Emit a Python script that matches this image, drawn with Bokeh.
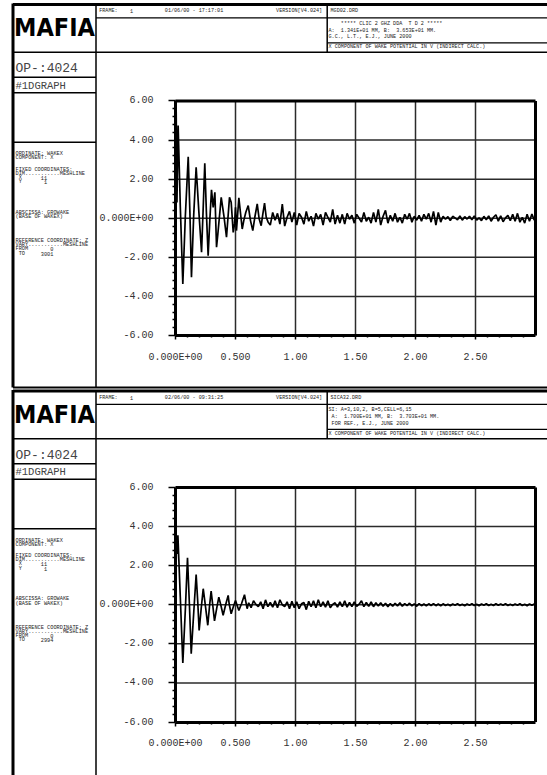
import re
from bokeh.plotting import figure
from bokeh.models import Range1d, LinearAxis, FixedTicker
from bokeh.core.properties import value
from bokeh.embed import file_html
from bokeh.resources import INLINE

# ---------------- data ----------------
x_tick_values = [0.0, 0.5, 1.0, 1.5, 2.0, 2.5]
x_tick_labels = ["0.000E+00", "0.500", "1.00", "1.50", "2.00", "2.50"]
x_end = 3.0
y_tick_values = [-6.0, -4.0, -2.0, 0.0, 2.0, 4.0, 6.0]
y_tick_labels = ["-6.00", "-4.00", "-2.00", "0.000E+00", "2.00", "4.00", "6.00"]

# upper plot: MGD02.DRD
ring1_x = [0.000, 0.005, 0.012, 0.022, 0.040, 0.061, 0.082, 0.106, 0.120, 0.133,
           0.152, 0.172, 0.195, 0.217, 0.230, 0.244, 0.258, 0.272, 0.286, 0.300,
           0.314, 0.328, 0.342, 0.353, 0.381, 0.403, 0.425, 0.450, 0.464, 0.481,
           0.492, 0.500, 0.508, 0.528, 0.556, 0.569, 0.586, 0.606, 0.625, 0.644,
           0.661, 0.681, 0.697, 0.714, 0.728, 0.742, 0.756, 0.772]
ring1_y = [0.00, 6.00, 0.80, 4.74, 0.60, -3.36, 0.10, 3.15, 0.30, -3.02,
           0.20, 2.61, 0.30, -1.74, 0.40, 2.81, 0.20, -1.91, -0.10, 1.45,
           0.56, 1.33, -1.48, -0.80, 1.07, 0.14, -0.97, 1.07, 0.82, -0.72,
           -0.29, 0.56, -0.63, 1.04, -0.55, -0.12, 0.31, 0.65, -0.12, -0.63,
           0.05, 0.73, -0.03, -0.38, 0.22, 0.77, 0.05, -0.20]
tail1_x = [0.79, 0.81, 0.83, 0.85, 0.87, 0.89, 0.91, 0.93, 0.95, 0.97, 0.99,
           1.01, 1.03, 1.05, 1.07, 1.09, 1.11, 1.13, 1.15, 1.17, 1.19,
           1.21, 1.23, 1.25, 1.27, 1.29, 1.31, 1.33, 1.35, 1.37, 1.39,
           1.41, 1.43, 1.45, 1.47, 1.49, 1.51, 1.53, 1.55, 1.57, 1.59,
           1.61, 1.63, 1.65, 1.67, 1.69, 1.71, 1.73, 1.75, 1.77, 1.79,
           1.81, 1.83, 1.85, 1.87, 1.89, 1.91, 1.93, 1.95, 1.97, 1.99,
           2.01, 2.03, 2.05, 2.07, 2.09, 2.11, 2.13, 2.15, 2.17, 2.19,
           2.21, 2.23, 2.25, 2.27, 2.29, 2.31, 2.33, 2.35, 2.37, 2.39,
           2.41, 2.43, 2.45, 2.47, 2.49, 2.51, 2.53, 2.55, 2.57, 2.59,
           2.61, 2.63, 2.65, 2.67, 2.69, 2.71, 2.73, 2.75, 2.77, 2.79,
           2.81, 2.83, 2.85, 2.87, 2.89, 2.91, 2.93, 2.95, 2.97, 2.99]
tail1_y = [-0.35, 0.30, -0.10, 0.25, -0.30, 0.72, -0.40, 0.05, 0.35, -0.20, 0.30,
           -0.35, 0.25, 0.05, -0.30, 0.35, -0.15, 0.10, -0.40, 0.25, -0.05,
           0.20, -0.35, 0.30, 0.05, -0.20, 0.45, -0.30, 0.15, -0.25, 0.20,
           -0.30, 0.25, -0.05, 0.15, -0.25, 0.20, 0.00, -0.20, 0.30, -0.15,
           0.05, -0.25, 0.30, -0.20, 0.45, -0.35, 0.10, 0.40, -0.25, 0.15,
           -0.15, 0.25, -0.20, 0.05, -0.25, 0.20, -0.05, 0.25, -0.20, 0.10,
           -0.10, 0.15, -0.15, 0.20, -0.05, 0.25, -0.20, 0.35, -0.35, 0.30,
           -0.20, 0.10, -0.05, 0.08, -0.12, 0.10, 0.02, -0.08, 0.12, -0.10,
           0.08, -0.04, 0.10, -0.08, 0.12, -0.10, 0.02, -0.12, 0.10, -0.08,
           0.12, -0.15, 0.05, 0.18, -0.15, 0.12, -0.18, 0.02, 0.15, -0.12,
           0.20, -0.15, 0.25, -0.20, 0.05, -0.25, 0.20, -0.15, 0.22, -0.10]

# lower plot: SICA32.DRD
ring2_x = [0.000, 0.008, 0.013, 0.020, 0.040, 0.061, 0.083, 0.100, 0.116, 0.131,
           0.152, 0.172, 0.185, 0.197, 0.214, 0.231, 0.250, 0.269, 0.283, 0.297,
           0.311, 0.325, 0.343, 0.361, 0.379, 0.397, 0.418, 0.439, 0.447, 0.464,
           0.482, 0.500, 0.528, 0.550, 0.575, 0.597]
ring2_y = [0.00, 3.20, 2.60, 3.55, 0.40, -2.98, -0.12, 2.40, 0.00, -2.50,
           -0.40, 1.55, 0.20, -1.31, -0.20, 0.82, -0.10, -1.05, -0.10, 0.70,
           -0.05, -0.83, -0.20, 0.39, -0.05, -0.54, 0.00, 0.48, 0.05, -0.46,
           -0.10, 0.22, -0.29, 0.05, 0.51, -0.20]
tail2_x = [0.61, 0.63, 0.65, 0.67, 0.69, 0.71, 0.73, 0.75, 0.77, 0.79,
           0.81, 0.83, 0.85, 0.87, 0.89, 0.91, 0.93, 0.95, 0.97, 0.99,
           1.01, 1.03, 1.05, 1.07, 1.09, 1.11, 1.13, 1.15, 1.17, 1.19,
           1.21, 1.23, 1.25, 1.27, 1.29, 1.31, 1.33, 1.35, 1.37, 1.39,
           1.41, 1.43, 1.45, 1.47, 1.49, 1.51, 1.53, 1.55, 1.57, 1.59,
           1.61, 1.63, 1.65, 1.67, 1.69, 1.71, 1.73, 1.75, 1.77, 1.79,
           1.81, 1.83, 1.85, 1.87, 1.89, 1.91, 1.93, 1.95, 1.97, 1.99,
           2.01, 2.03, 2.05, 2.07, 2.09, 2.11, 2.13, 2.15, 2.17, 2.19,
           2.21, 2.23, 2.25, 2.27, 2.29, 2.31, 2.33, 2.35, 2.37, 2.39,
           2.41, 2.43, 2.45, 2.47, 2.49, 2.51, 2.53, 2.55, 2.57, 2.59,
           2.61, 2.63, 2.65, 2.67, 2.69, 2.71, 2.73, 2.75, 2.77, 2.79,
           2.81, 2.83, 2.85, 2.87, 2.89, 2.91, 2.93, 2.95, 2.97, 2.99]
tail2_y = [0.10, -0.15, 0.20, 0.02, -0.10, 0.15, -0.20, 0.25, -0.10, 0.12,
           -0.12, 0.20, -0.15, 0.25, 0.00, -0.10, 0.15, -0.20, 0.18, -0.15,
           0.15, -0.20, 0.05, 0.12, -0.25, 0.18, -0.10, 0.20, -0.15, 0.25,
           -0.10, 0.15, -0.12, 0.20, -0.15, 0.02, 0.10, -0.12, 0.15, -0.10,
           0.20, -0.12, 0.12, -0.10, 0.15, -0.08, 0.03, 0.20, -0.10, 0.12,
           -0.08, 0.15, -0.10, 0.10, -0.06, 0.10, -0.08, 0.08, -0.10, 0.06,
           -0.08, 0.08, -0.06, 0.10, -0.08, 0.06, -0.05, 0.08, -0.06, 0.05,
           -0.08, 0.06, -0.05, 0.04, -0.06, 0.05, -0.04, 0.06, -0.05, 0.04,
           -0.06, 0.05, -0.04, 0.03, -0.05, 0.04, -0.03, 0.05, -0.04, 0.03,
           -0.05, 0.04, -0.03, 0.05, -0.04, 0.03, -0.05, 0.04, -0.03, 0.05,
           -0.04, 0.03, -0.04, 0.05, -0.03, 0.04, -0.03, 0.05, -0.04, 0.03,
           -0.04, 0.04, -0.03, 0.05, -0.04, 0.03, -0.05, 0.04, -0.03, 0.04]

wake1_x = ring1_x + tail1_x
wake1_y = ring1_y + tail1_y
wake2_x = ring2_x + tail2_x
wake2_y = ring2_y + tail2_y

# ---------------- texts ----------------
frame_texts = [("FRAME:    1", "01/06/00 - 17:17:01", "VERSION[V4.024]"),
               ("FRAME:    1", "02/06/00 - 09:31:25", "VERSION[V4.024]")]
file_names = ["MGD02.DRD", "SICA32.DRD"]
descriptions = [["    ***** CLIC 2 GHZ DDA  T D 2 *****",
                 "A:  1.341E+01 MM, B:  3.653E+01 MM.",
                 "G.C., L.T., E.J., JUNE 2000"],
                ["SI: A=3,10,2, B=5,CELL=6,15",
                 " A:  1.700E+01 MM, B:  3.703E+01 MM.",
                 " FOR REF., E.J., JUNE 2000"]]
quantity = "X COMPONENT OF WAKE POTENTIAL IN V (INDIRECT CALC.)"
program = "MAFIA"
op_label = "OP-:4024"
graph_label = "#1DGRAPH"
info_common = ["ORDINATE: WAKEX", "COMPONENT: X", "FIXED COORDINATES:",
               "DIM...........MESHLINE", " X      11", " Y       1",
               "ABSCISSA: GROWAKE", "(BASE OF WAKEX)",
               "REFERENCE COORDINATE: Z", "VARY...........MESHLINE",
               "FROM       0"]
info_last = [" TO     3001", " TO     2994"]

# ---------------- layout (pixels of the picture) ----------------
PX0, PY0 = 0, 0
W, H = 547, 775
AX_X0 = 175.0          # picture x of abscissa 0
PX_PER_X = 120.0
PX_PER_Y = 19.55
panel_offsets = [0.0, 386.5]
ZERO_Y = 217.75
MONO = "Liberation Mono"

p = figure(width=W, height=H, x_range=Range1d(PX0, PX0 + W), y_range=Range1d(PY0 + H, PY0),
           x_axis_type=None, y_axis_type=None, toolbar_location=None,
           output_backend="svg", min_border=0, title=None)
p.outline_line_color = None
p.background_fill_color = "white"
p.border_fill_color = "white"

p.extra_x_ranges = {"dx": Range1d((PX0 - AX_X0) / PX_PER_X, (PX0 + W - AX_X0) / PX_PER_X)}
yr = {}
for k, T in enumerate(panel_offsets):
    z = ZERO_Y + T
    yr["dy%d" % k] = Range1d((z - (PY0 + H)) / PX_PER_Y, (z - PY0) / PX_PER_Y)
p.extra_y_ranges = yr


def seg(x0, y0, x1, y1, w, color="black"):
    p.segment(x0=[x0], y0=[y0], x1=[x1], y1=[y1], line_width=w, line_color=color)


def txt(x, y, texts, size, font=MONO, color="#222", align="left", style="normal"):
    p.text(x=x, y=y, text=texts, text_font=value(font), text_font_size=size,
           text_color=color, text_align=align, text_baseline="middle", text_font_style=style)


def mono_line(x, y, s, size_px, color="#222"):
    """Fixed-width text: keep the column of every word group (SVG collapses spaces)."""
    cw = 0.6 * size_px
    xs, ys, parts = [], [], []
    for m in re.finditer(r"\S+(?: \S+)*", s):
        xs.append(x + m.start() * cw)
        ys.append(y)
        parts.append(m.group(0))
    txt(xs, ys, parts, "%.2fpx" % size_px, color=color)


x_step = x_tick_values[1] - x_tick_values[0]
x_minor = [round(i * x_step / 5, 3) for i in range(1, int(round(x_end / (x_step / 5))))]
x_minor = [v for v in x_minor if all(abs(v - t) > 1e-6 for t in x_tick_values)]
y_step = y_tick_values[1] - y_tick_values[0]
y_minor = [round(y_tick_values[0] + i * y_step / 5, 3)
           for i in range(1, int(round((y_tick_values[-1] - y_tick_values[0]) / (y_step / 5))))]
y_minor = [v for v in y_minor if all(abs(v - t) > 1e-6 for t in y_tick_values)]

right_edge = 547
wakes = [(wake1_x, wake1_y), (wake2_x, wake2_y)]
HDR = 5.13
INFO = 5.27

for k, T in enumerate(panel_offsets):
    top = T + 4
    bottom = 387 if k == 0 else 780
    # ---- frame of the sheet ----
    seg(12.5, top - 1, 12.5, bottom, 3)
    seg(12.5, top, right_edge, top, 3)
    if k == 0:
        seg(12.5, bottom, right_edge, bottom, 2)
    seg(95.5, top, 95.5, bottom, 1.5)
    seg(12.5, T + 51.7, right_edge, T + 51.7, 1.5)
    seg(95.5, T + 17.3, right_edge, T + 17.3, 1.2)
    seg(326.7, top, 326.7, T + 51.7, 1.5)
    seg(326.7, T + 42.3, right_edge, T + 42.3, 1.2)
    seg(12.5, T + 76.7, 95.5, T + 76.7, 1.5)
    seg(12.5, T + 92.3, 95.5, T + 92.3, 1.5)
    seg(12.5, T + 141.7, 95.5, T + 141.7, 1.5)

    # ---- header texts ----
    fy = T + 10.8
    f0, f1, f2 = frame_texts[k]
    mono_line(98.7, fy, f0, HDR)
    mono_line(164.3, fy, f1, HDR)
    txt([321.7], [fy], [f2], "%.2fpx" % HDR, align="right")
    mono_line(330.0, fy, file_names[k], HDR)
    for line, ly in zip(descriptions[k], [T + 23.3, T + 30.0, T + 36.7]):
        mono_line(328.0, ly, line, HDR)
    mono_line(328.0, T + 46.9, quantity, HDR)

    # ---- left column ----
    txt([54.0], [T + 27.0], [program], "25px", font="DejaVu Sans Condensed", color="black",
        align="center", style="bold")
    txt([15.0], [T + 68.0], [op_label], "13px", color="#444")
    txt([15.0], [T + 85.0], [graph_label], "10.5px", color="#444")
    info = info_common + [info_last[k]]
    info_y = [153.5, 157.7, 169.0, 173.3, 177.3, 181.5, 212.2, 216.5, 240.8, 244.8, 248.8, 253.0]
    for line, ly in zip(info, info_y):
        mono_line(15.0, T + ly, line, INFO)

    # ---- plot ----
    yn = "dy%d" % k
    y_lo, y_hi = y_tick_values[0], y_tick_values[-1]
    inner_y = [v for v in y_tick_values if y_lo < v < y_hi]
    p.segment(x0=x_tick_values[1:], y0=[y_lo] * (len(x_tick_values) - 1),
              x1=x_tick_values[1:], y1=[y_hi] * (len(x_tick_values) - 1),
              x_range_name="dx", y_range_name=yn, line_width=1.5, line_color="#2b2b2b")
    p.segment(x0=[0.0] * len(inner_y), y0=inner_y, x1=[x_end] * len(inner_y), y1=inner_y,
              x_range_name="dx", y_range_name=yn, line_width=1.5, line_color="#2b2b2b")
    p.segment(x0=[0.0, x_end], y0=[y_hi, y_lo], x1=[x_end, x_end], y1=[y_hi, y_hi],
              x_range_name="dx", y_range_name=yn, line_width=3, line_color="black")

    wx, wy = wakes[k]
    p.line(wx, wy, x_range_name="dx", y_range_name=yn, line_width=1.7, line_color="black")

    yax = LinearAxis(x_range_name="dx", y_range_name=yn, fixed_location=0.0, bounds=(y_lo, y_hi),
                     ticker=FixedTicker(ticks=y_tick_values, minor_ticks=y_minor),
                     major_label_overrides=dict(zip(y_tick_values, y_tick_labels)),
                     axis_line_width=3, axis_line_color="black",
                     major_tick_out=7, major_tick_in=0, major_tick_line_width=1.5,
                     minor_tick_out=3, minor_tick_in=0, minor_tick_line_width=1.5,
                     major_label_standoff=15, major_label_text_font=MONO,
                     major_label_text_font_size="10px", major_label_text_color="#333")
    p.add_layout(yax, "left")
    xax = LinearAxis(x_range_name="dx", y_range_name=yn, fixed_location=y_lo, bounds=(0.0, x_end),
                     ticker=FixedTicker(ticks=x_tick_values, minor_ticks=x_minor),
                     major_label_overrides=dict(zip(x_tick_values, x_tick_labels)),
                     axis_line_width=3, axis_line_color="black",
                     major_tick_out=4, major_tick_in=0, major_tick_line_width=1.5,
                     minor_tick_out=2, minor_tick_in=0, minor_tick_line_width=1.5,
                     major_label_standoff=12, major_label_text_font=MONO,
                     major_label_text_font_size="10px", major_label_text_color="#333")
    p.add_layout(xax, "below")

open("out.html", "w").write(file_html(p, INLINE))
